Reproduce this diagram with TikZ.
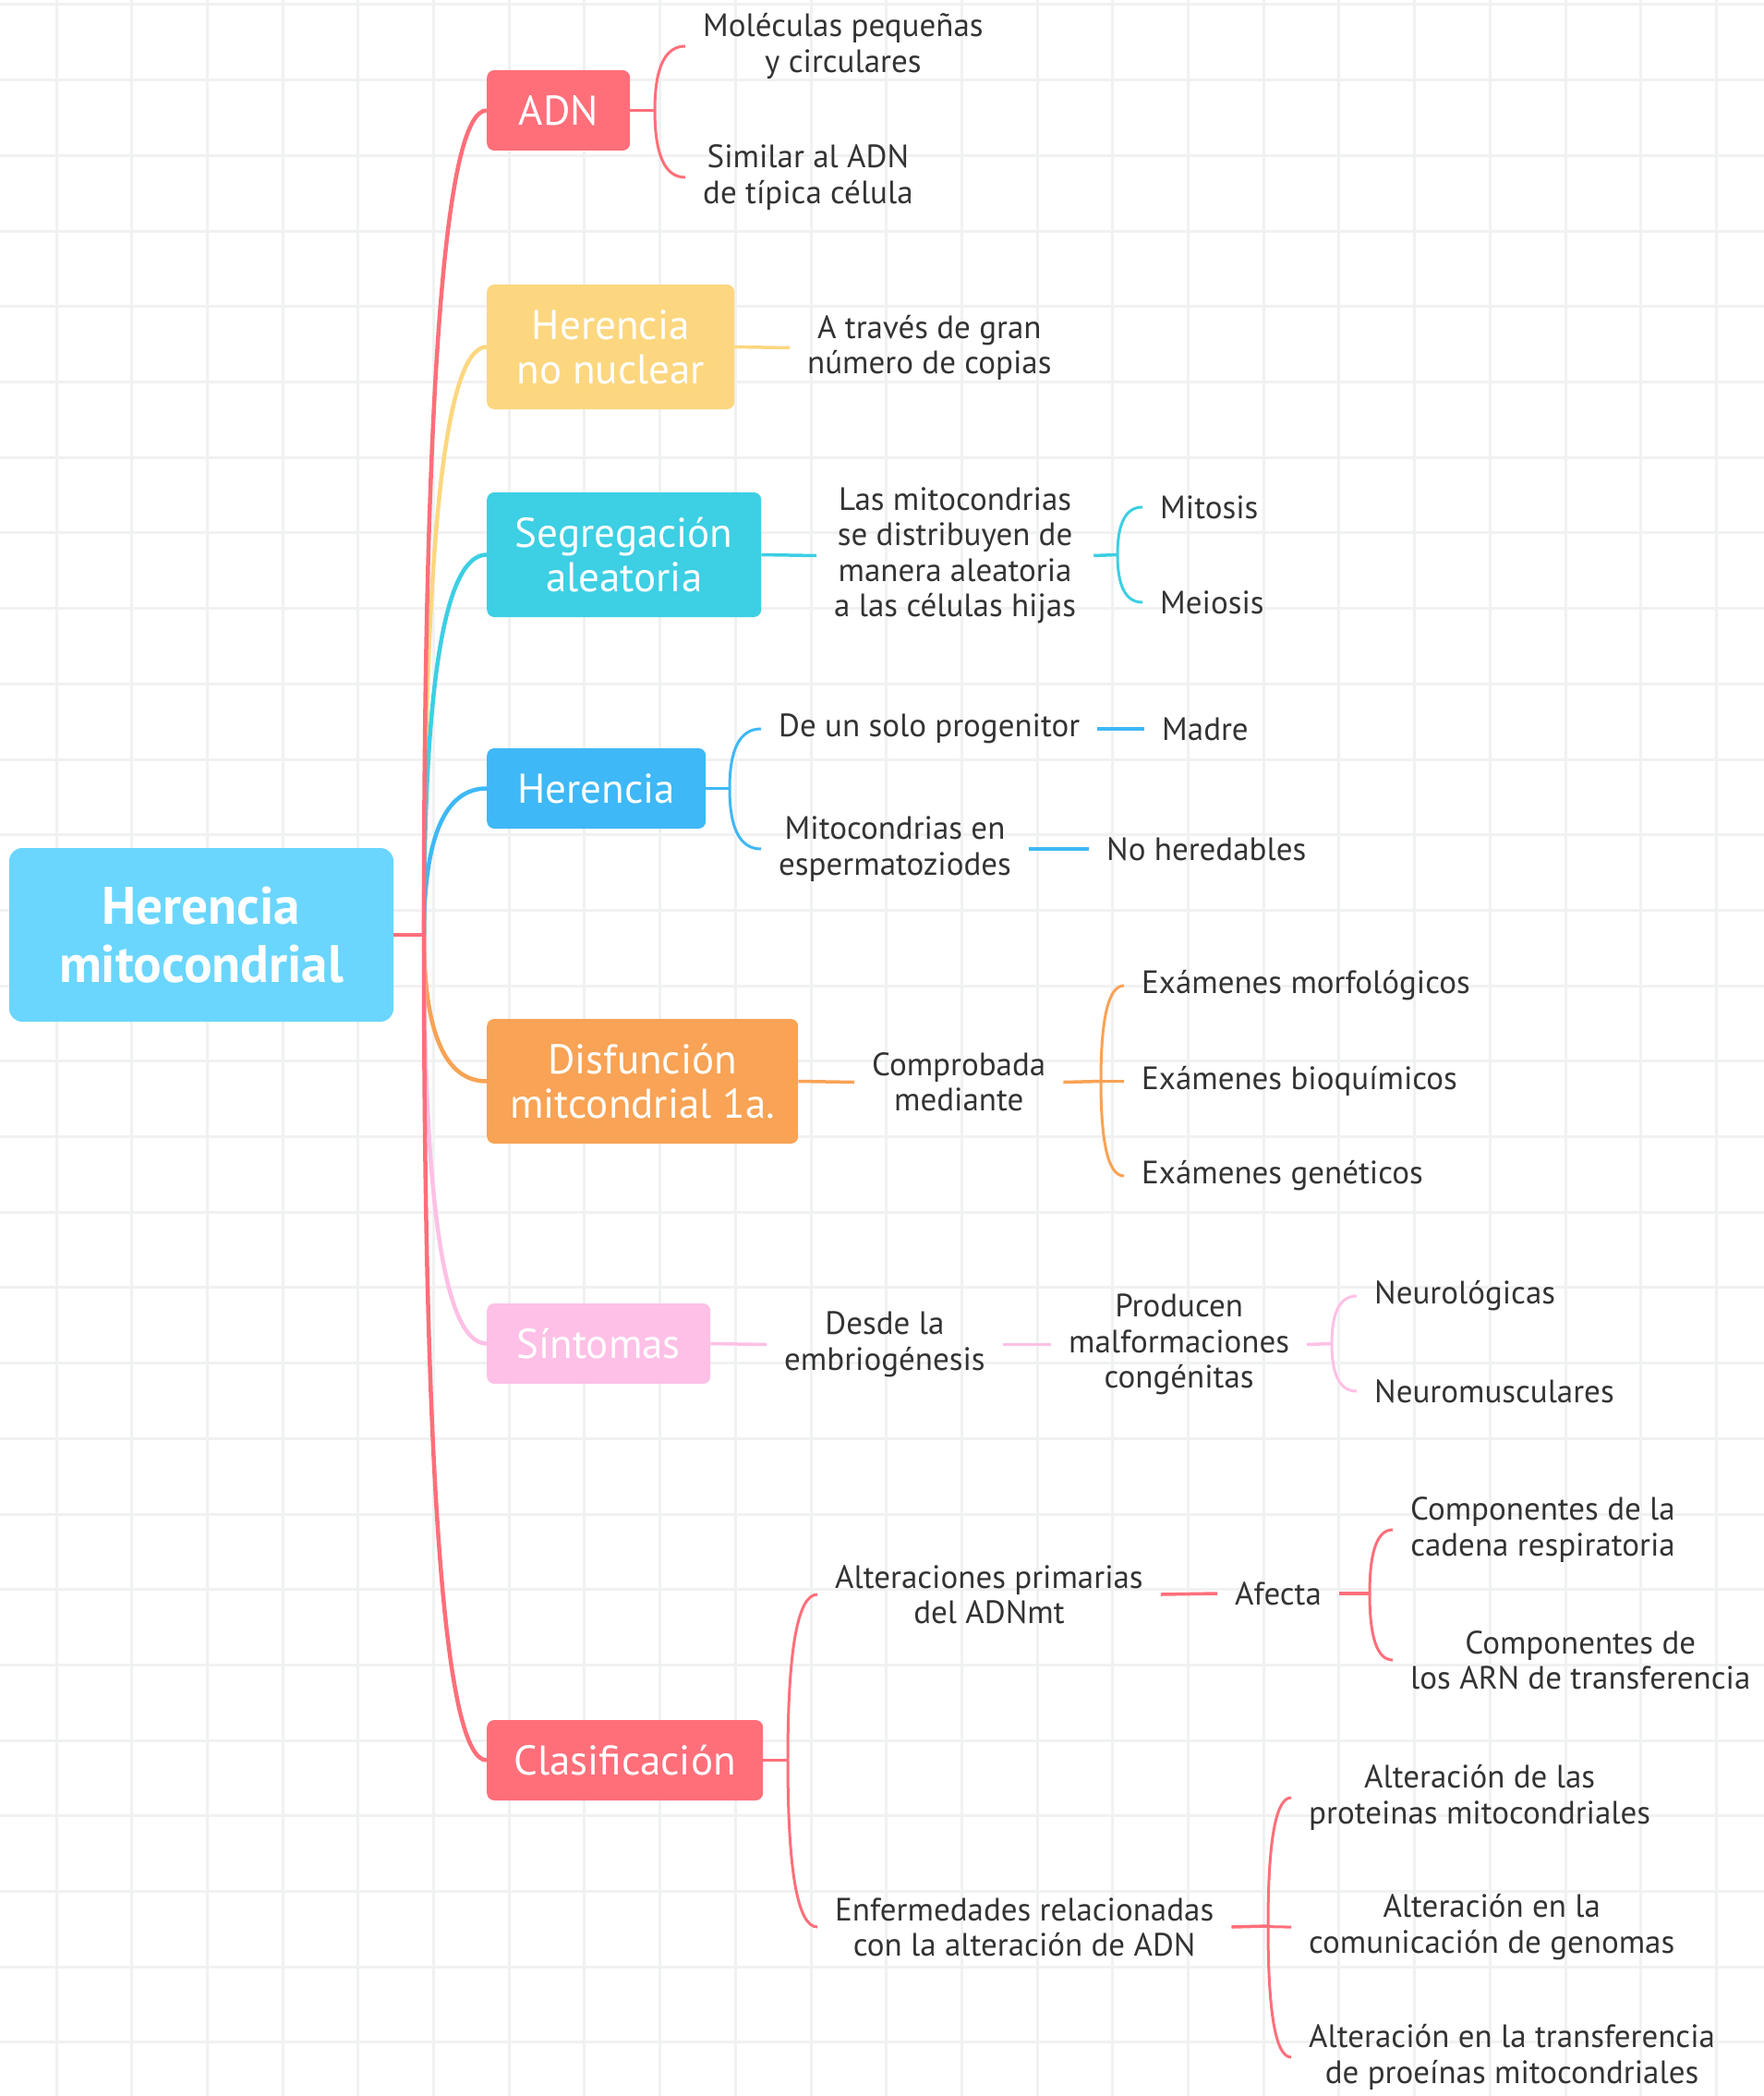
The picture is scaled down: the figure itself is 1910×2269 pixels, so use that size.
\documentclass[tikz,border=0pt]{standalone}
\usepackage{fontspec}
\setmainfont{PT Sans}
\usetikzlibrary{calc}

\definecolor{rojo}{HTML}{FE6F7A}
\definecolor{amarillo}{HTML}{FCD77F}
\definecolor{cian}{HTML}{3DCFE3}
\definecolor{azul}{HTML}{3EB8F6}
\definecolor{naranja}{HTML}{F8A355}
\definecolor{rosa}{HTML}{FEC0E6}
\definecolor{celeste}{HTML}{6AD6FE}
\definecolor{texto}{HTML}{333333}
\definecolor{cuadricula}{HTML}{F0F1F1}

\tikzset{
	cuadro/.style={draw=cuadricula, line width=3pt},
	raiz/.style={fill=celeste, rounded corners=14pt, text=white, align=center, inner sep=0pt,
		minimum width=416pt, minimum height=188pt, font=\fontsize{57}{63}\selectfont\bfseries},
	tema/.style={rounded corners=8pt, text=white, align=center, anchor=west, inner sep=0pt,
		minimum height=87pt, font=\fontsize{45}{48}\selectfont},
	hoja/.style={text=texto, align=center, anchor=west, inner xsep=19pt, inner ysep=4pt,
		font=\fontsize{35}{38.4}\selectfont},
	recta/.style={line width=3.5pt},
	rama/.style={line width=4.5pt,
		to path={.. controls ($(\tikztostart)!.6667!(\tikztostart |- \tikztotarget)$)
			and ($(\tikztotarget)!.6667!(\tikztostart |- \tikztotarget)$) .. (\tikztotarget)}},
	llave/.style={rama, line width=3pt},
}

\begin{document}
\begin{tikzpicture}[x=1pt, y=-1pt]
		\fill[white] (0,0) rectangle (1910,2269);
		\useasboundingbox (0,0) rectangle (1910,2269);
		\foreach \i in {0,...,22} \draw[cuadro] ({61+81.7*\i},0) -- ({61+81.7*\i},2269);
		\foreach \j in {0,...,27} \draw[cuadro] (0,{5+81.7*\j}) -- (1910,{5+81.7*\j});
		
		\node[raiz] (hm) at (218,1012) {Herencia\\mitocondrial};
		\coordinate (tronco) at (459,1012);
		
		\node[tema, fill=rojo, minimum width=155pt] (adn) at (527,119.5) {ADN};
		\node[tema, fill=amarillo, minimum width=268pt, minimum height=135pt] (hnn) at (527,375.5) {Herencia\\no nuclear};
		\node[tema, fill=cian, minimum width=297pt, minimum height=135pt] (seg) at (527,600.5) {Segregación\\aleatoria};
		\node[tema, fill=azul, minimum width=237pt] (her) at (527,853.5) {Herencia};
		\node[tema, fill=naranja, minimum width=337pt, minimum height=135pt] (dis) at (527,1170.5) {Disfunción\\mitcondrial 1a.};
		\node[tema, fill=rosa, minimum width=242pt] (sin) at (527,1454.5) {Síntomas};
		\node[tema, fill=rojo, minimum width=299pt] (cla) at (527,1905.5) {Clasificación};
		
		\node[hoja] (mol) at (742,50) {Moléculas pequeñas\\y circulares};
		\node[hoja] (sim) at (742,192) {Similar al ADN\\de típica célula};
		\node[hoja] (cop) at (855,376.5) {A través de gran\\número de copias};
		\node[hoja] (dist) at (884,601.5) {Las mitocondrias\\se distribuyen de\\manera aleatoria\\a las células hijas};
		\node[hoja] (mit) at (1237,549) {Mitosis};
		\node[hoja] (mei) at (1237,652) {Meiosis};
		\node[hoja] (prog) at (824,789) {De un solo progenitor};
		\node[hoja] (mad) at (1239,789) {Madre};
		\node[hoja] (esp) at (824,919) {Mitocondrias en\\espermatoziodes};
		\node[hoja] (noh) at (1179,919) {No heredables};
		\node[hoja] (comp) at (925,1171.5) {Comprobada\\mediante};
		\node[hoja] (morf) at (1217,1067) {Exámenes morfológicos};
		\node[hoja] (bioq) at (1217,1170.5) {Exámenes bioquímicos};
		\node[hoja] (gene) at (1217,1273) {Exámenes genéticos};
		\node[hoja] (emb) at (830,1455.5) {Desde la\\embriogénesis};
		\node[hoja] (prod) at (1138,1455.5) {Producen\\malformaciones\\congénitas};
		\node[hoja] (neul) at (1469,1403) {Neurológicas};
		\node[hoja] (neum) at (1469,1506) {Neuromusculares};
		\node[hoja] (prim) at (885,1726) {Alteraciones primarias\\del ADNmt};
		\node[hoja] (afe) at (1318,1725) {Afecta};
		\node[hoja] (cad) at (1508,1656) {Componentes de la\\cadena respiratoria};
		\node[hoja] (arn) at (1508,1797) {Componentes de\\los ARN de transferencia};
		\node[hoja] (enf) at (885,2086) {Enfermedades relacionadas\\con la alteración de ADN};
		\node[hoja] (prot) at (1398,1946) {Alteración de las\\proteinas mitocondriales};
		\node[hoja] (geno) at (1398,2086) {Alteración en la\\comunicación de genomas};
		\node[hoja] (tran) at (1398,2227) {Alteración en la transferencia\\de proeínas mitocondriales};
		
		\coordinate (adnL) at (709,119.5);
		\coordinate (distL) at (1210,600.5);
		\coordinate (herL) at (790,853.5);
		\coordinate (compL) at (1192,1170.5);
		\coordinate (prodL) at (1442,1454.5);
		\coordinate (claL) at (853,1905.5);
		\coordinate (afeL) at (1483,1725);
		\coordinate (enfL) at (1373,2085);
		
		% ramas principales
		\path (hm.east) edge[rama, rojo] (tronco);
		\path (tronco) edge[rama, amarillo] (hnn.west);
		\path (tronco) edge[rama, cian] (seg.west);
		\path (tronco) edge[rama, azul] (her.west);
		\path (tronco) edge[rama, naranja] (dis.west);
		\path (tronco) edge[rama, rosa] (sin.west);
		\path (tronco) edge[rama, rojo] (adn.west);
		\path (tronco) edge[rama, rojo] (cla.west);
		
		\path (adn.east) edge[recta, rojo] (adnL);
		\path (adnL) edge[llave, rojo] (mol.west);
		\path (adnL) edge[llave, rojo] (sim.west);
		
		\path (hnn.east) edge[recta, amarillo] (cop.west);
		
		\path (seg.east) edge[recta, cian] (dist.west);
		\path (dist.east) edge[recta, cian] (distL);
		\path (distL) edge[llave, cian] (mit.west);
		\path (distL) edge[llave, cian] (mei.west);
		
		\path (her.east) edge[recta, azul] (herL);
		\path (herL) edge[llave, azul] (prog.west);
		\path (herL) edge[llave, azul] (esp.west);
		\path (prog.east) edge[recta, azul] (mad.west);
		\path (esp.east) edge[recta, azul] (noh.west);
		
		\path (dis.east) edge[recta, naranja] (comp.west);
		\path (comp.east) edge[recta, naranja] (compL);
		\path (compL) edge[llave, naranja] (morf.west);
		\path (compL) edge[llave, naranja] (bioq.west);
		\path (compL) edge[llave, naranja] (gene.west);
		
		\path (sin.east) edge[recta, rosa] (emb.west);
		\path (emb.east) edge[recta, rosa] (prod.west);
		\path (prod.east) edge[recta, rosa] (prodL);
		\path (prodL) edge[llave, rosa] (neul.west);
		\path (prodL) edge[llave, rosa] (neum.west);
		
		\path (cla.east) edge[recta, rojo] (claL);
		\path (claL) edge[llave, rojo] (prim.west);
		\path (claL) edge[llave, rojo] (enf.west);
		\path (prim.east) edge[recta, rojo] (afe.west);
		\path (afe.east) edge[recta, rojo] (afeL);
		\path (afeL) edge[llave, rojo] (cad.west);
		\path (afeL) edge[llave, rojo] (arn.west);
		\path (enf.east) edge[recta, rojo] (enfL);
		\path (enfL) edge[llave, rojo] (prot.west);
		\path (enfL) edge[llave, rojo] (geno.west);
		\path (enfL) edge[llave, rojo] (tran.west);
		
\end{tikzpicture}
\end{document}
